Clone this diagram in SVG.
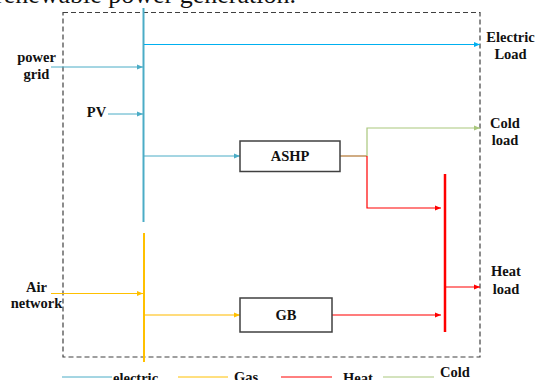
<svg xmlns="http://www.w3.org/2000/svg" width="536" height="380" viewBox="0 0 536 380">
<defs>
<style>
.t{font-family:"Liberation Serif","Times New Roman",serif;font-weight:bold;font-size:14.5px;fill:#111;text-anchor:middle}
.tl{font-family:"Liberation Serif","Times New Roman",serif;font-weight:bold;font-size:14.5px;fill:#111}
.box{fill:#fff;stroke:#404040;stroke-width:1.5}
.bl{stroke:#4bacc6;fill:none}
.el{stroke:#00b0f0;fill:none}
.gd{stroke:#ffc000;fill:none}
.gl{stroke:#ffd050;fill:none}
.rd{stroke:#ff0000;fill:none}
.rl{stroke:#ff5050;fill:none}
.gr{stroke:#a9c77c;fill:none}
.br{stroke:#c0915a;fill:none}
</style>
<marker id="aB" viewBox="0 0 6 6" refX="6" refY="3" markerWidth="6" markerHeight="6" markerUnits="userSpaceOnUse" orient="auto"><path d="M0,0.5L6,3L0,5.5z" fill="#4bacc6"/></marker>
<marker id="aE" viewBox="0 0 6 6" refX="6" refY="3" markerWidth="6" markerHeight="6" markerUnits="userSpaceOnUse" orient="auto"><path d="M0,0.5L6,3L0,5.5z" fill="#00b0f0"/></marker>
<marker id="aG" viewBox="0 0 6 6" refX="6" refY="3" markerWidth="6" markerHeight="6" markerUnits="userSpaceOnUse" orient="auto"><path d="M0,0.5L6,3L0,5.5z" fill="#ffc000"/></marker>
<marker id="aR" viewBox="0 0 6 6" refX="6" refY="3" markerWidth="6" markerHeight="6" markerUnits="userSpaceOnUse" orient="auto"><path d="M0,0.5L6,3L0,5.5z" fill="#ff0000"/></marker>
<marker id="aV" viewBox="0 0 6 6" refX="6" refY="3" markerWidth="6" markerHeight="6" markerUnits="userSpaceOnUse" orient="auto"><path d="M0,0.5L6,3L0,5.5z" fill="#a9c77c"/></marker>
</defs>
<rect width="536" height="380" fill="#fff"/>
<text x="296" y="3" font-family="Liberation Serif, Times New Roman, serif" font-size="26" fill="#111" text-anchor="end">renewable power generation.</text>
<rect x="63" y="12.5" width="417" height="344.5" fill="none" stroke="#404040" stroke-width="1.2" stroke-dasharray="5,3"/>
<g id="connectors">
<line class="bl" x1="143.5" y1="8" x2="143.5" y2="222" stroke-width="2"/>
<line class="gd" x1="144" y1="233" x2="144" y2="362" stroke-width="2"/>
<line class="rd" x1="445" y1="174" x2="445" y2="332" stroke-width="2.5"/>
<line class="el" x1="144" y1="44.5" x2="480" y2="44.5" stroke-width="1" marker-end="url(#aE)"/>
<line class="bl" x1="51" y1="67" x2="143" y2="67" stroke-width="1" marker-end="url(#aB)"/>
<line class="bl" x1="108" y1="114" x2="143" y2="114" stroke-width="1" marker-end="url(#aB)"/>
<line class="bl" x1="144" y1="156" x2="240" y2="156" stroke-width="1" marker-end="url(#aB)"/>
<line class="br" x1="340" y1="156" x2="367" y2="156" stroke-width="1.5"/>
<polyline class="gr" points="367,156 367,128 480,128" stroke-width="1.2" marker-end="url(#aV)"/>
<polyline class="rd" points="367,156 367,208 441,208" stroke-width="1.2" marker-end="url(#aR)"/>
<line class="rd" x1="445" y1="287" x2="480" y2="287" stroke-width="1.2" marker-end="url(#aR)"/>
<line class="gd" x1="51" y1="293.5" x2="143" y2="293.5" stroke-width="1" marker-end="url(#aG)"/>
<line class="gl" x1="145" y1="315" x2="240" y2="315" stroke-width="1.5" marker-end="url(#aG)"/>
<line class="rl" x1="332" y1="315" x2="441" y2="315" stroke-width="1.5" marker-end="url(#aR)"/>
</g>
<g id="ASHP"><rect class="box" x="240" y="141" width="100" height="30.5"/><text class="t" x="290" y="161">ASHP</text></g>
<g id="GB"><rect class="box" x="240" y="298" width="92" height="34"/><text class="t" x="286" y="320">GB</text></g>
<g id="power-grid"><text class="t" x="36.5" y="62">power</text><text class="t" x="36.5" y="79">grid</text></g>
<g id="PV"><text class="t" x="96.5" y="117">PV</text></g>
<g id="air-network"><text class="t" x="36.5" y="292">Air</text><text class="t" x="36.5" y="308">network</text></g>
<g id="electric-load"><text class="t" x="510.5" y="42">Electric</text><text class="t" x="510.5" y="58.5">Load</text></g>
<g id="cold-load"><text class="t" x="505" y="127.5">Cold</text><text class="t" x="505" y="144.5">load</text></g>
<g id="heat-load"><text class="t" x="506" y="276">Heat</text><text class="t" x="506" y="293.5">load</text></g>
<g id="legend">
<line x1="62" y1="377" x2="112" y2="377" stroke="#4bacc6" stroke-width="1"/>
<text class="tl" x="113" y="383">electric</text>
<line x1="178" y1="377" x2="228" y2="377" stroke="#ffc000" stroke-width="1"/>
<text class="tl" x="234" y="382">Gas</text>
<line x1="281" y1="377" x2="332" y2="377" stroke="#ff0000" stroke-width="1"/>
<text class="tl" x="343" y="383">Heat</text>
<line x1="383" y1="377" x2="434" y2="377" stroke="#a9c77c" stroke-width="1"/>
<text class="tl" x="440" y="377">Cold</text>
</g>
</svg>
